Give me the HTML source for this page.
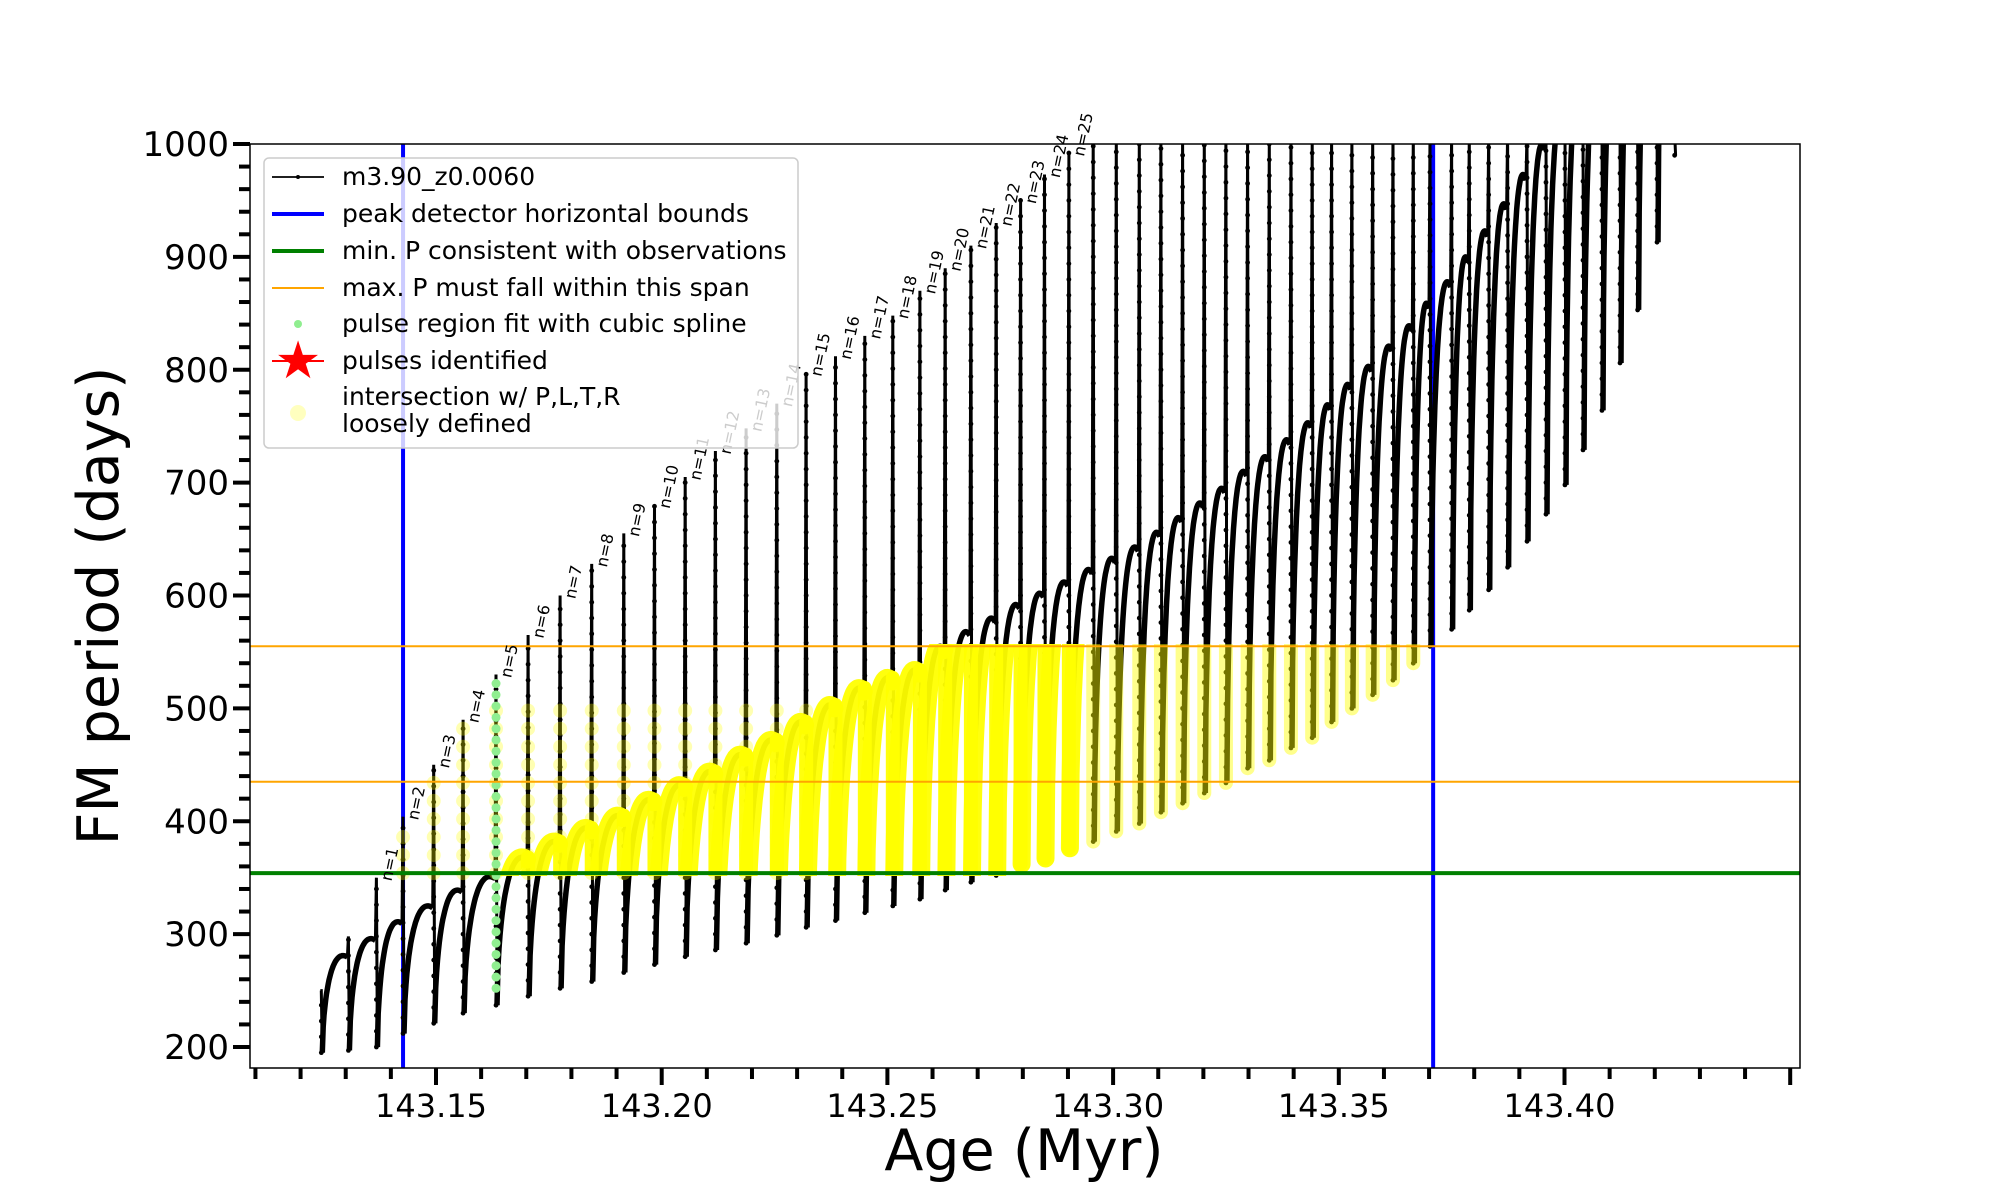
<!DOCTYPE html>
<html><head><meta charset="utf-8">
<style>
html,body{margin:0;padding:0;background:#fff;}
svg{display:block;font-family:"DejaVu Sans","Liberation Sans",sans-serif;}
</style></head>
<body>
<svg id="chart" width="2000" height="1200" viewBox="0 0 2000 1200" xmlns="http://www.w3.org/2000/svg">
<defs>
<clipPath id="plotclip"><rect x="250" y="144" width="1550" height="924"/></clipPath>
<clipPath id="bandclip"><rect x="250" y="644" width="1550" height="232"/></clipPath>
</defs>
<rect x="0" y="0" width="2000" height="1200" fill="#fff"/>
<g id="ticks"></g>
<g id="series" clip-path="url(#plotclip)"></g>
<g id="labels"></g>
<rect x="250" y="144" width="1550" height="924" fill="none" stroke="#000" stroke-width="1.5"/>
<g id="legend"></g>
<text x="1024" y="1170" font-size="57" text-anchor="middle">Age (Myr)</text>
<text transform="translate(118,606) rotate(-90)" font-size="57" text-anchor="middle">FM period (days)</text>
</svg>
<script>
const pulseAge=[143.1246,143.1306,143.1368,143.1427,143.1495,143.1560,143.1633,143.1704,143.1775,143.1845,143.1916,143.1984,143.2052,143.2119,143.2187,143.2255,143.2320,143.2385,143.2450,143.2512,143.2572,143.2628,143.2685,143.2741,143.2795,143.2848,143.2902,143.2956,143.3007,143.3058,143.3106,143.3154,143.3202,143.3250,143.3298,143.3346,143.3394,143.3441,143.3484,143.3529,143.3575,143.3620,143.3665,143.3702,143.3750,143.3789,143.3832,143.3874,143.3917,143.3959,143.4001,143.4041,143.4083,143.4123,143.4162,143.4205,143.4244];
const spikeTop=[250,298,350,404,450,490,530,565,600,628,655,680,705,728,748,770,797,812,830,848,870,890,910,930,950,973,992,1010,1010,1010,1010,1010,1010,1010,1010,1010,1010,1010,1010,1010,1010,1010,1010,1010,1010,1010,1010,1010,1010,1010,1010,1010,1010,1010,1010,1010,1010];
const spikeBottom=[195,197,200,212,221,230,237,245,252,258,266,273,280,286,292,299,306,312,319,325,331,339,346,352,362,367,376,382,391,398,408,416,425,434,447,454,465,474,488,500,512,525,540,555,570,587,605,625,648,672,698,729,764,806,853,913,990];
const arcPeak=[281,296,311,325,339,351,368,382,394,405,419,432,444,459,472,488,503,518,527,534,555,568,580,592,602,612,623,633,643,656,669,682,695,710,723,738,753,769,787,803,821,839,859,878,900,923,947,973,1000,1030,1060,1090,1120,1150,1180,1210,1240];
const yTickLabels=[200,300,400,500,600,700,800,900,1000];
const xTickLabels=["143.15","143.20","143.25","143.30","143.35","143.40"];
const blueBounds=[143.1427,143.3709];
const minP=[354];
const maxPSpan=[435,555];
const greenPulse=[6];

const NS="http://www.w3.org/2000/svg";
function X(a){return 436+(a-143.15)*4514;}
function Y(v){return 144+(1000-v)*1.12875;}
function mk(tag,attrs,parent){const e=document.createElementNS(NS,tag);for(const k in attrs)e.setAttribute(k,attrs[k]);parent.appendChild(e);return e;}
const ticks=document.getElementById('ticks'),series=document.getElementById('series'),labels=document.getElementById('labels'),legend=document.getElementById('legend');

for(let i=0;i<=40;i++){const v=200+i*20;const y=Y(v);const major=(v%100===0);
 const t=mk('line',{x1:250-(major?17:11),x2:250,y1:y,y2:y,stroke:'#000','stroke-width':4},ticks);
 
 }
yTickLabels.forEach(v=>{const t=mk('text',{x:229,y:Y(v)+12,'font-size':34,'text-anchor':'end'},ticks);t.textContent=v;
 
 });
for(let i=11;i<=45;i++){const a=143+i/100;const x=X(a);if(x<250||x>1800)continue;const major=(i%5===0);
 const t=mk('line',{x1:x,x2:x,y1:1068,y2:1068+(major?17:11),stroke:'#000','stroke-width':4},ticks);
 
 }
xTickLabels.forEach(s=>{const t=mk('text',{x:X(parseFloat(s))-5,y:1117,'font-size':32,'text-anchor':'middle'},ticks);t.textContent=s;
 
 });

function arcF(t){const u=Math.pow(t,0.55);return Math.sin(Math.PI/2*u/0.9);}
function arcPts(i){const pts=[];const a=pulseAge[i],b=pulseAge[i+1];const x0=X(a)+1,x1=X(b)-1;
 for(let k=0;k<=30;k++){const t=k/30;const v=spikeBottom[i]+(arcPeak[i]-spikeBottom[i])*arcF(t);pts.push([x0+(x1-x0)*t,Y(v)]);}return pts;}
function ptsStr(p){return p.map(q=>q[0].toFixed(1)+','+q[1].toFixed(1)).join(' ');}

blueBounds.forEach(a=>{const l=mk('line',{x1:X(a),x2:X(a),y1:144,y2:1068,stroke:'#0000ff','stroke-width':4},series);
 
 });

for(let i=0;i<pulseAge.length;i++){const x=X(pulseAge[i]);
 const prevEnd=i>0?spikeBottom[i-1]+(arcPeak[i-1]-spikeBottom[i-1])*arcF(1):spikeTop[i];
 const s=mk('polyline',{points:ptsStr([[x-1,Y(prevEnd)],[x,Y(spikeTop[i])],[x+1,Y(spikeBottom[i])]]),fill:'none',stroke:'#000','stroke-width':3},series);
 
 
 if(i<pulseAge.length-1){const a=mk('polyline',{points:ptsStr(arcPts(i)),fill:'none',stroke:'#000','stroke-width':5.5,'stroke-linejoin':'round'},series);
  
  }
 const top=Math.min(spikeTop[i],1000);
 for(let v=spikeBottom[i];v<=top;v+=14){const c=mk('circle',{cx:x,cy:Y(v),r:2.4,fill:'#000'},series);
  
  }}

for(let i=3;i<=16;i++){const x=X(pulseAge[i]);const top=Math.min(spikeTop[i]-4,498);
 for(let v=minP[0];v<=top;v+=16){const c=mk('circle',{cx:x,cy:Y(v),r:7,fill:'#ffff00','fill-opacity':0.3},series);
  
  }}

const band=mk('g',{'clip-path':'url(#bandclip)'},series);


for(let i=7;i<=42;i++){const x=X(pulseAge[i]);const op=i<=26?0.95:0.45;
 const top=Math.min(556,arcPeak[i-1]);
 const s=mk('line',{x1:x,x2:x,y1:Y(top),y2:Y(spikeBottom[i]),stroke:'#ffff00','stroke-width':14,'stroke-linecap':'round','stroke-opacity':op},band);
 
 }
for(let i=6;i<=26;i++){const a=mk('polyline',{points:ptsStr(arcPts(i)),fill:'none',stroke:'#ffff00','stroke-width':18,'stroke-linejoin':'round','stroke-linecap':'round','stroke-opacity':0.95},band);
 
 }

greenPulse.forEach(i=>{const x=X(pulseAge[i]);for(let v=252;v<=spikeTop[i];v+=10){const c=mk('circle',{cx:x,cy:Y(v),r:4.5,fill:'#90ee90'},series);
 
 }});

maxPSpan.forEach(v=>{const l=mk('line',{x1:250,x2:1800,y1:Y(v),y2:Y(v),stroke:'#ffa500','stroke-width':2},series);
 
 });
minP.forEach(v=>{const l=mk('line',{x1:250,x2:1800,y1:Y(v),y2:Y(v),stroke:'#008000','stroke-width':4},series);
 
 });

for(let n=1;n<=25;n++){const i=n+1;const x=X(pulseAge[i])+15,y=Y(spikeTop[i])+4;
 const t=mk('text',{x:x,y:y,'font-size':16,transform:`rotate(-78 ${x} ${y})`},labels);t.textContent='n='+n;
 
 }

const lb=mk('rect',{x:264,y:158,width:534,height:290,rx:5,fill:'#fff','fill-opacity':0.8,stroke:'#cccccc','stroke-width':1.5},legend);


const entries=[["m3.90_z0.0060",177],["peak detector horizontal bounds",214],["min. P consistent with observations",251],["max. P must fall within this span",288],["pulse region fit with cubic spline",324],["pulses identified",361]];
entries.forEach((e,k)=>{const t=mk('text',{x:342,y:e[1]+8,'font-size':25},legend);t.textContent=e[0];
 
 });
let h;
h=mk('line',{x1:272,x2:324,y1:177,y2:177,stroke:'#000','stroke-width':1.8},legend);
h=mk('circle',{cx:298,cy:177,r:2,fill:'#000'},legend);
h=mk('line',{x1:272,x2:324,y1:214,y2:214,stroke:'#0000ff','stroke-width':4},legend);
h=mk('line',{x1:272,x2:324,y1:251,y2:251,stroke:'#008000','stroke-width':4},legend);
h=mk('line',{x1:272,x2:324,y1:288,y2:288,stroke:'#ffa500','stroke-width':2},legend);
h=mk('circle',{cx:298,cy:324,r:4,fill:'#90ee90'},legend);
h=mk('line',{x1:272,x2:324,y1:361,y2:361,stroke:'#ff0000','stroke-width':2},legend);
h=mk('text',{x:298,y:378,'font-size':52,fill:'#ff0000','text-anchor':'middle'},legend);h.textContent='★';
h=mk('circle',{cx:298,cy:413,r:8,fill:'#ffff00','fill-opacity':0.25},legend);
h=mk('text',{x:342,y:405,'font-size':25},legend);h.textContent='intersection w/ P,L,T,R';
h=mk('text',{x:342,y:432,'font-size':25},legend);h.textContent='loosely defined';
</script>
</body></html>
